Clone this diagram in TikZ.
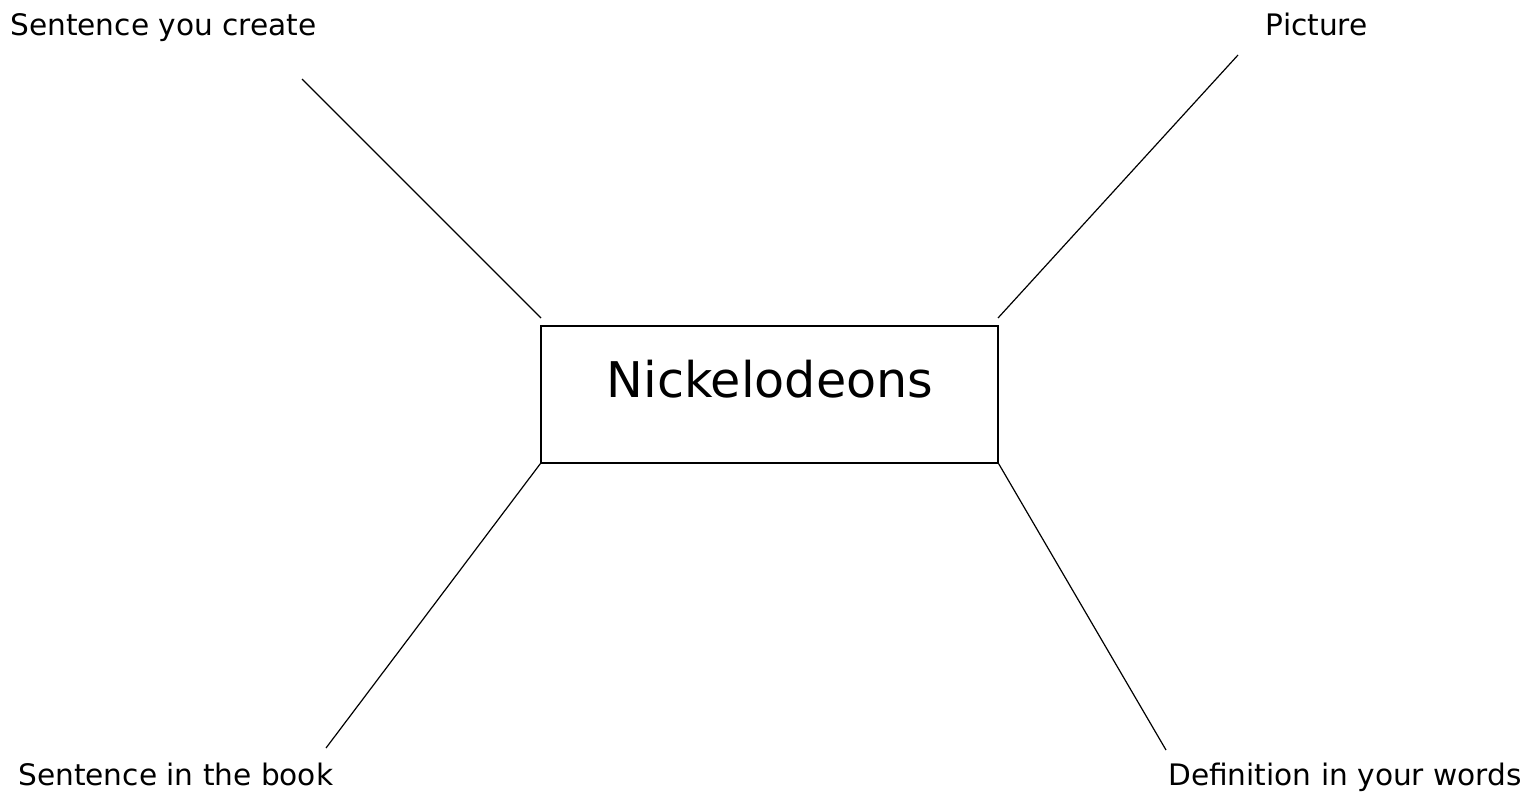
\documentclass[tikz,border=0pt]{standalone}
\usepackage{fontspec}
\setmainfont{DejaVu Sans}
\begin{document}
\begin{tikzpicture}[x=0.5pt,y=-0.5pt,
  lbl/.style={inner sep=0pt,font=\fontsize{14.8}{17}\selectfont},
  spoke/.style={draw=black,line width=0.6pt},
  center/.style={draw=black,line width=0.6pt,minimum width=228.5pt,minimum height=68.5pt,inner sep=0pt},
  ctext/.style={inner sep=0pt,font=\fontsize{24.6}{29}\selectfont}]
\useasboundingbox (0,0) rectangle (1536,799);
\node[center] (c) at (769.5,394.5) {};
\node[ctext,anchor=base] (ct) at (770,397) {Nickelodeons};
\node[lbl,anchor=base west] (tl) at (10,35) {Sentence you create};
\node[lbl,anchor=base east] (tr) at (1368,35) {Picture};
\node[lbl,anchor=base west] (bl) at (18,785) {Sentence in the book};
\node[lbl,anchor=base east] (br) at (1522,785) {Definition in your words};
\coordinate (tlA) at (302,79);
\coordinate (tlB) at (541,318);
\coordinate (trA) at (1238,55);
\coordinate (trB) at (998,318);
\coordinate (blA) at (326,748);
\coordinate (brA) at (1166,750);
\draw[spoke] (tlA) -- (tlB);
\draw[spoke] (trA) -- (trB);
\draw[spoke] (c.south west) -- (blA);
\draw[spoke] (c.south east) -- (brA);
\end{tikzpicture}
\end{document}
